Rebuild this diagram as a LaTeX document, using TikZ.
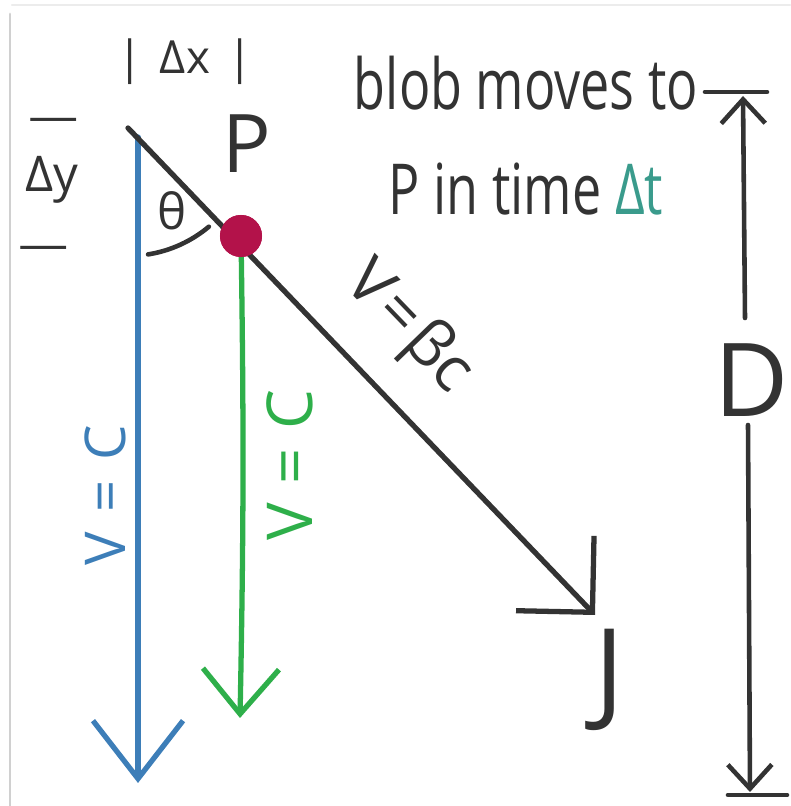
\documentclass[tikz,border=0pt]{standalone}
\usepackage{fontspec}
\setmainfont{Open Sans}
\newfontfamily\narrowhand[FakeStretch=0.74]{Open Sans}
\usepackage{tikz}
\usetikzlibrary{arrows.meta,positioning,calc}
\usepackage{xcolor}
\definecolor{InkGray}{HTML}{333333}
\definecolor{PathBlue}{HTML}{3D7EB8}
\definecolor{PathGreen}{HTML}{2EAF4A}
\definecolor{BlobRed}{HTML}{B3124A}
\definecolor{TimeTeal}{HTML}{3A9B8C}
\definecolor{FrameGray}{HTML}{D0D0D0}

\begin{document}
\begin{tikzpicture}[x=0.01cm,y=0.01cm,line cap=round,line join=round,
  ink/.style={draw=InkGray,line width=1.5pt},
  hand/.style={inner sep=0pt,text=InkGray},
  bigbarb/.style={-{Straight Barb[length=5.4mm,width=10.8mm,line width=1.5pt]}},
  bluebarb/.style={-{Straight Barb[length=5.8mm,width=9mm,line width=1.5pt]}},
  greenbarb/.style={-{Straight Barb[length=4.5mm,width=7.6mm,line width=1.5pt]}},
  dimbarb/.style={-{Straight Barb[length=2.4mm,width=4.4mm,line width=1.3pt]}}]
\useasboundingbox (0,0) rectangle (790,806);
% faint frame of the scan
\draw[FrameGray,line width=0.8pt] (10,792) -- (10,0);
\draw[FrameGray!40,line width=0.6pt] (12,801) -- (790,801);
% points of the triangle
\coordinate (apex) at (128,678);
\coordinate (bluetop) at (138,669);
\coordinate (bluetip) at (138,23);
\coordinate (greentip) at (240,88);
\coordinate (jtip) at (595,191);
\node[circle,fill=BlobRed,minimum size=0.42cm,inner sep=0pt] (blob) at (241,570) {};
% paths
\draw[draw=PathBlue,line width=1.5pt,bluebarb] (bluetop) -- (bluetip);
\draw[draw=PathGreen,line width=1.5pt,greenbarb] (blob.center) to[bend left=1] (greentip);
\draw[ink,bigbarb] (apex) -- (jtip);
\node[circle,fill=BlobRed,minimum size=0.42cm,inner sep=0pt] at (blob) {};
\draw[ink,line width=1.3pt] ($(apex)+(279:128)$) arc[start angle=279,end angle=310,radius=1.25cm];
% labels near the apex
\node[hand,font=\fontsize{13}{13}\selectfont] (dx) at (185,744) {|\hspace{5pt}Δx\hspace{5pt}|};
\node[hand,font=\fontsize{14}{14}\selectfont] (dy) at (52,626) {Δy};
\node[hand,rotate=90,font=\fontsize{13}{13}\selectfont] (dybar1) at (54,686) {|};
\node[hand,rotate=90,font=\fontsize{13}{13}\selectfont] (dybar2) at (44,558) {|};
\node[hand,font=\fontsize{23}{23}\selectfont] (plab) at (247,662) {P};
\node[hand,font=\fontsize{14}{14}\selectfont] (theta) at (172,595) {θ};
% speeds
\node[hand,text=PathBlue,rotate=90,font=\fontsize{16}{16}\selectfont] (vblue) at (105,311) {V\hspace{0.35em}=\hspace{0.35em}C};
\node[hand,text=PathGreen,rotate=90,font=\fontsize{18}{18}\selectfont] (vgreen) at (290,341) {V\hspace{0.3em}=\hspace{0.3em}C};
\node[hand,rotate=-46,font=\fontsize{18}{18}\selectfont] (vbeta) at (408,478) {V\kern1.5pt=\kern1.5pt βc};
\node[hand,font=\fontsize{32}{32}\selectfont] (jlab) at (610,126) {J};
% caption
\node[hand,anchor=base,font=\narrowhand\fontsize{20}{20}\selectfont] (title1) at (526,696) {blob moves to};
\node[hand,anchor=base,font=\narrowhand\fontsize{20}{20}\selectfont] (title2) at (526,591) {P in time \textcolor{TimeTeal}{Δt}};
% distance D
\node[hand,font=\fontsize{29}{29}\selectfont] (dlab) at (752,426) {D};
\coordinate (dtop) at (743,710);
\coordinate (dbot) at (750,14);
\coordinate (dhi) at (745,488);
\coordinate (dlo) at (748,381);
\draw[ink,line width=1.3pt,dimbarb] (dhi) -- (dtop);
\draw[ink,line width=1.3pt,dimbarb] (dlo) -- (dbot);
\draw[ink,line width=1.3pt] ($(dtop)+(-38,4)$) -- ($(dtop)+(24,4)$);
\draw[ink,line width=1.3pt] ($(dbot)+(-22,-3)$) -- ($(dbot)+(37,-3)$);
\end{tikzpicture}
\end{document}
